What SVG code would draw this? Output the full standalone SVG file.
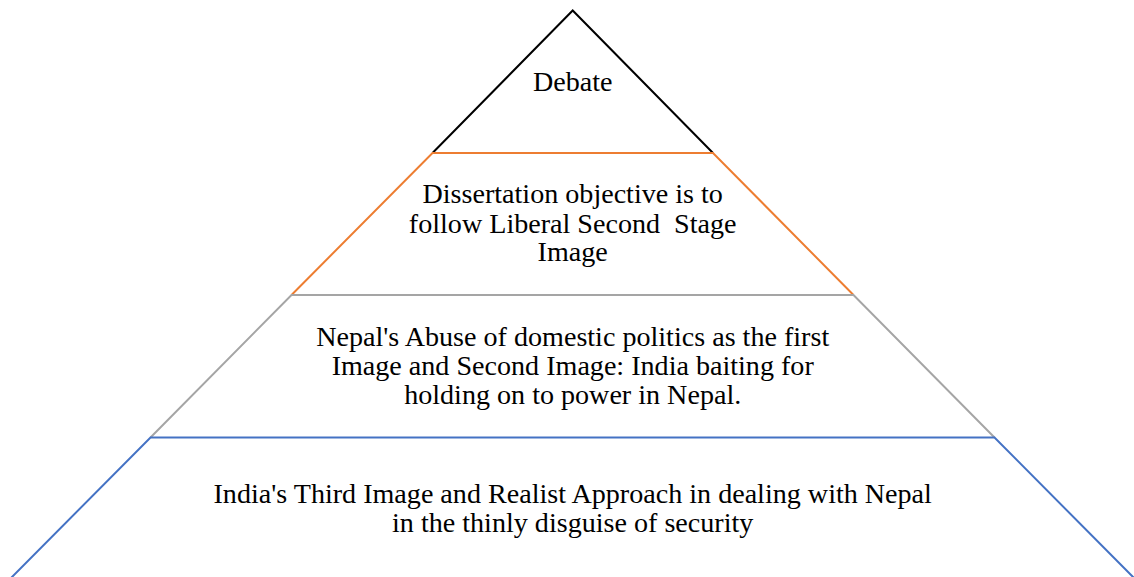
<svg xmlns="http://www.w3.org/2000/svg" width="1134" height="577" viewBox="0 0 1134 577">
  <style>
    .edge { fill: none; stroke-width: 2; stroke-linejoin: miter; }
    .lbl { font-family: "Liberation Serif", "Times New Roman", serif; font-size: 28.1px; fill: #000; text-anchor: middle; white-space: pre; }
  </style>
  <rect width="1134" height="577" fill="#ffffff"/>
  <g id="level1">
    <polyline class="edge" stroke="#000000" points="432.5,153 572.7,10.5 713,153"/>
    <text class="lbl" x="572.7" y="91">Debate</text>
  </g>
  <g id="level2">
    <polyline class="edge" stroke="#ED7D31" points="291.5,295 432.5,153 713,153 853.5,295"/>
    <text class="lbl" x="572.7" y="203.3">Dissertation objective is to</text>
    <text class="lbl" x="572.7" y="232.5">follow Liberal Second  Stage</text>
    <text class="lbl" x="572.7" y="261">Image</text>
  </g>
  <g id="level3">
    <polyline class="edge" stroke="#A5A5A5" points="150.5,437.5 291.5,295 853.5,295 994.5,437.5"/>
    <text class="lbl" x="572.7" y="345.5">Nepal's Abuse of domestic politics as the first</text>
    <text class="lbl" x="572.7" y="375">Image and Second Image: India baiting for</text>
    <text class="lbl" x="572.7" y="404">holding on to power in Nepal.</text>
  </g>
  <g id="level4">
    <polyline class="edge" stroke="#4472C4" points="9,580 150.5,437.5 994.5,437.5 1136,580"/>
    <text class="lbl" x="572.7" y="503.3">India's Third Image and Realist Approach in dealing with Nepal</text>
    <text class="lbl" x="572.7" y="531.7">in the thinly disguise of security</text>
  </g>
  <g id="connectors"/>
</svg>
